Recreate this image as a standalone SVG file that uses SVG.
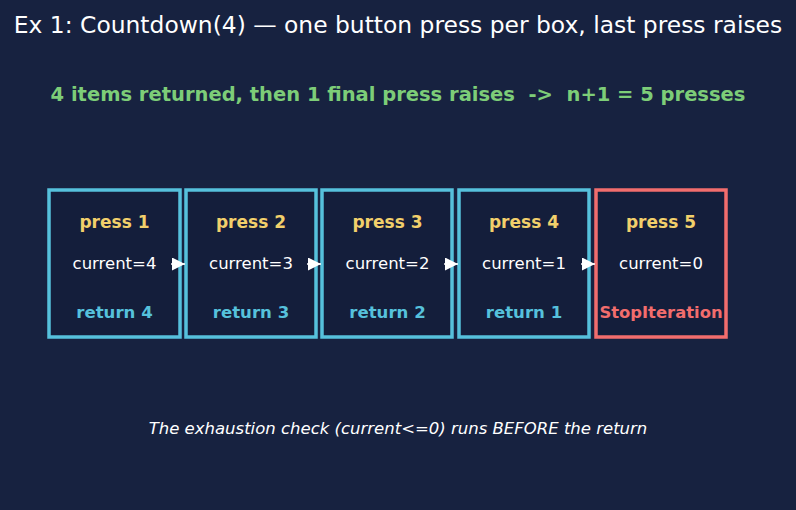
<svg xmlns="http://www.w3.org/2000/svg" width="796" height="510" viewBox="0 0 796 510">
<style>
text{font-family:"DejaVu Sans","Liberation Sans",sans-serif;text-anchor:middle;white-space:pre}
.title{font-size:23.4px;fill:#ffffff}
.sub{font-size:19.5px;font-weight:bold;fill:#7dcd78}
.press{font-size:17px;font-weight:bold;fill:#f2d06b}
.cur{font-size:16.5px;fill:#ffffff}
.ret{font-size:16.6px;font-weight:bold;fill:#56c1dc}
.stop{font-size:16.4px;font-weight:bold;fill:#f26d6d}
.foot{font-size:16.5px;font-style:italic;fill:#ffffff}
.box{fill:#141e3b;stroke:#56c1dc;stroke-width:3.5}
.boxr{fill:#141e3b;stroke:#f26d6d;stroke-width:3.5}
.conn{stroke:#ffffff;stroke-width:1.5;fill:none}
</style>
<defs>
<marker id="ah" markerWidth="13" markerHeight="13" refX="13" refY="6.5" orient="auto" markerUnits="userSpaceOnUse">
<path d="M0,0 L13,6.5 L0,13 Z" fill="#ffffff"/>
</marker>
</defs>
<rect x="0" y="0" width="796" height="510" fill="#172240"/>
<text class="title" x="398" y="33">Ex 1: Countdown(4) — one button press per box, last press raises</text>
<text class="sub" x="398" y="101" xml:space="preserve">4 items returned, then 1 final press raises  -&gt;  n+1 = 5 presses</text>
<g id="node1">
<rect class="box" x="49" y="190" width="131" height="147"/>
<text class="press" x="114.5" y="228">press 1</text>
<text class="cur" x="114.5" y="269">current=4</text>
<text class="ret" x="114.5" y="318">return 4</text>
</g>
<g id="node2">
<rect class="box" x="186" y="190" width="130" height="147"/>
<text class="press" x="251" y="228">press 2</text>
<text class="cur" x="251" y="269">current=3</text>
<text class="ret" x="251" y="318">return 3</text>
</g>
<g id="node3">
<rect class="box" x="322" y="190" width="130" height="147"/>
<text class="press" x="387.5" y="228">press 3</text>
<text class="cur" x="387.5" y="269">current=2</text>
<text class="ret" x="387.5" y="318">return 2</text>
</g>
<g id="node4">
<rect class="box" x="459" y="190" width="130" height="147"/>
<text class="press" x="524" y="228">press 4</text>
<text class="cur" x="524" y="269">current=1</text>
<text class="ret" x="524" y="318">return 1</text>
</g>
<g id="node5">
<rect class="boxr" x="596" y="190" width="130" height="147"/>
<text class="press" x="661" y="228">press 5</text>
<text class="cur" x="661" y="269">current=0</text>
<text class="stop" x="661" y="318">StopIteration</text>
</g>
<g id="connectors">
<path class="conn" d="M171,264 L185,264" marker-end="url(#ah)"/>
<path class="conn" d="M307,264 L321,264" marker-end="url(#ah)"/>
<path class="conn" d="M444,264 L458,264" marker-end="url(#ah)"/>
<path class="conn" d="M581,264 L595,264" marker-end="url(#ah)"/>
</g>
<text class="foot" x="398" y="434">The exhaustion check (current&lt;=0) runs BEFORE the return</text>
</svg>
